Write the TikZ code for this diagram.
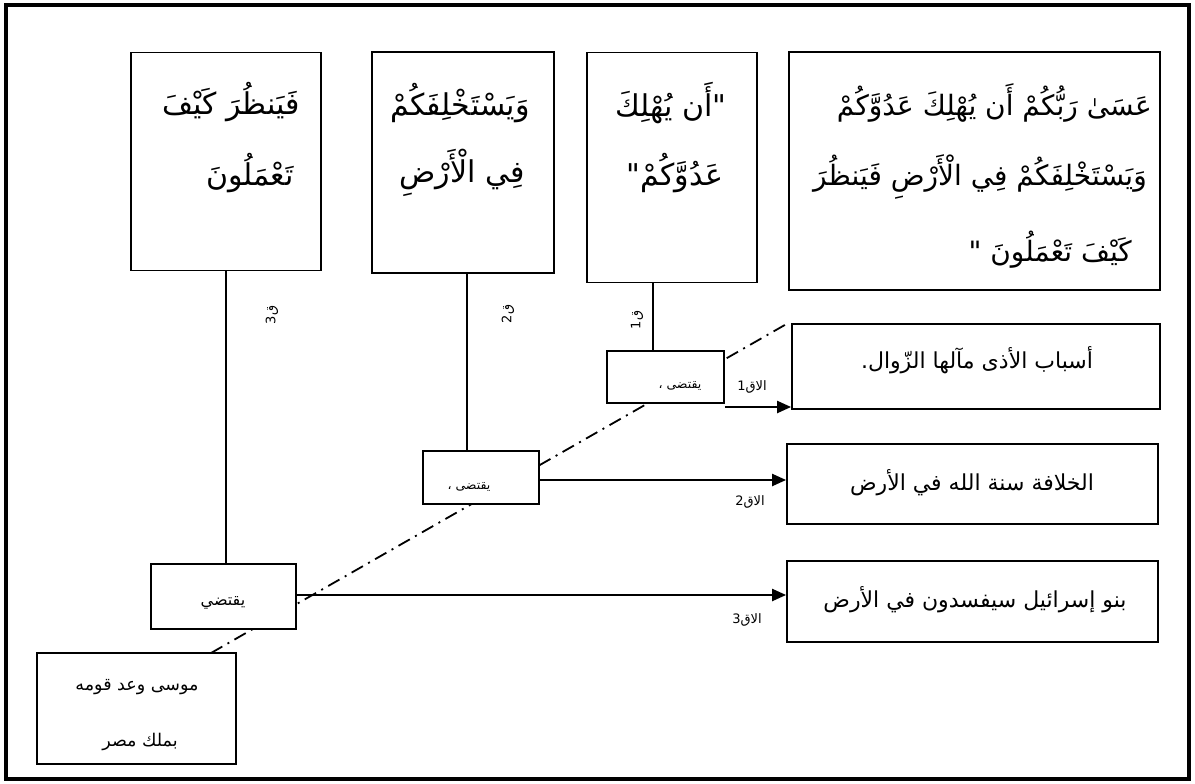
\documentclass[tikz,border=0pt]{standalone}
\usepackage{fontspec}
\TeXXeTstate=1
\newfontfamily\arabicfont[Script=Arabic]{DejaVu Sans}
\usetikzlibrary{arrows.meta}
\newcommand{\AR}[1]{{\arabicfont\beginR #1\endR}}
\begin{document}
\begin{tikzpicture}[x=1pt,y=-1pt,
  frame/.style={draw, line width=3.5pt},
  bigbox/.style={draw, line width=1.8pt, fill=white, inner sep=0pt},
  smallbox/.style={draw, line width=1.6pt, fill=white, inner sep=0pt},
  conn/.style={line width=1.6pt},
  arr/.style={line width=2.2pt, -{Triangle[length=14pt,width=12pt]}},
  dashdot/.style={line width=1.8pt, dash pattern=on 13pt off 6pt on 2pt off 6pt},
  quranA/.style={font=\arabicfont\fontsize{28}{32}\selectfont, inner sep=0pt},
  quran/.style={font=\arabicfont\fontsize{30}{34}\selectfont, inner sep=0pt},
  plain/.style={font=\arabicfont\fontsize{22}{26}\selectfont, inner sep=0pt},
  mtext/.style={font=\arabicfont\fontsize{17.5}{21}\selectfont, inner sep=0pt},
  stext/.style={font=\arabicfont\fontsize{12.5}{15}\selectfont, inner sep=0pt},
  stextb/.style={font=\arabicfont\fontsize{16}{19}\selectfont, inner sep=0pt},
  lab/.style={font=\arabicfont\fontsize{13}{15}\selectfont, inner sep=0pt},
]
\useasboundingbox (0,0) rectangle (1195,784);
\node[frame, minimum width=1183pt, minimum height=774pt, inner sep=0pt] (frm) at (597.5,392) {};

% dash-dot line (behind boxes)
\coordinate (dS) at (211,653);
\coordinate (dE) at (790,322);
\draw[dashdot] (dS) -- (dE);

% top boxes
\node[bigbox, minimum width=371pt, minimum height=238pt] (A) at (974.5,171) {};
\node[bigbox, minimum width=170pt, minimum height=230pt] (B) at (672,167.5) {};
\node[bigbox, minimum width=182pt, minimum height=221pt] (C) at (463,162.5) {};
\node[bigbox, minimum width=190pt, minimum height=218pt] (D) at (226,161.5) {};

\node[quranA, anchor=east] (A1) at (1152,103) {\AR{عَسَىٰ رَبُّكُمْ أَن يُهْلِكَ عَدُوَّكُمْ}};
\node[quranA, anchor=east] (A2) at (1147,177) {\AR{وَيَسْتَخْلِفَكُمْ فِي الْأَرْضِ فَيَنظُرَ}};
\node[quranA, anchor=east] (A3) at (1132,250) {\AR{كَيْفَ تَعْمَلُونَ  "}};

\node[quran] (B1) at (671,103) {\AR{"أَن يُهْلِكَ}};
\node[quran] (B2) at (675,173) {\AR{عَدُوَّكُمْ"}};

\node[quran] (C1) at (460,103) {\AR{وَيَسْتَخْلِفَكُمْ}};
\node[quran] (C2) at (462,173) {\AR{فِي الْأَرْضِ}};

\node[quran] (D1) at (231,102) {\AR{فَيَنظُرَ كَيْفَ}};
\node[quran] (D2) at (250,173) {\AR{تَعْمَلُونَ}};

% small boxes
\node[smallbox, minimum width=117pt, minimum height=52pt] (s1) at (665.5,377) {};
\node[smallbox, minimum width=116pt, minimum height=53pt] (s2) at (481,477.5) {};
\node[smallbox, minimum width=145pt, minimum height=65pt] (s3) at (223.5,596.5) {};
\node[stext] (t1) at (680,386) {\AR{يقتضى ،}};
\node[stext] (t2) at (469,487) {\AR{يقتضى ،}};
\node[stextb] (t3) at (223,603) {\AR{يقتضي}};

% right boxes
\node[bigbox, minimum width=368pt, minimum height=85pt] (E) at (976,366.5) {};
\node[bigbox, minimum width=371pt, minimum height=80pt] (F) at (972.5,484) {};
\node[bigbox, minimum width=371pt, minimum height=81pt] (G) at (972.5,601.5) {};
\node[plain] (E1) at (977,360) {\AR{أسباب الأذى مآلها الزّوال.}};
\node[plain] (F1) at (972,483) {\AR{الخلافة سنة الله في الأرض}};
\node[plain] (G1) at (975,600) {\AR{بنو إسرائيل سيفسدون في الأرض}};

% bottom-left box
\node[bigbox, minimum width=199pt, minimum height=111pt] (H) at (136.5,708.5) {};
\node[mtext] (H1) at (137,687) {\AR{موسى وعد قومه}};
\node[mtext] (H2) at (140,742) {\AR{بملك مصر}};

% vertical connectors
\coordinate (x1) at (653,0);
\coordinate (x2) at (467,0);
\coordinate (x3) at (226,0);
\draw[conn] (B.south -| x1) -- (s1.north -| x1);
\draw[conn] (C.south -| x2) -- (s2.north -| x2);
\draw[conn] (D.south -| x3) -- (s3.north -| x3);

% rotated labels
\node[lab, rotate=90] (q1) at (637,320) {\AR{ق1}};
\node[lab, rotate=90] (q2) at (508,314) {\AR{ق2}};
\node[lab, rotate=90] (q3) at (272,315) {\AR{ق3}};

% arrows
\coordinate (y1) at (0,407);
\coordinate (y2) at (0,480);
\coordinate (y3) at (0,595);
\draw[arr] (s1.east |- y1) -- (E.west |- y1);
\draw[arr] (s2.east |- y2) -- (F.west |- y2);
\draw[arr] (s3.east |- y3) -- (G.west |- y3);
\node[lab] (a1) at (752,387) {\AR{الاق1}};
\node[lab] (a2) at (750,502) {\AR{الاق2}};
\node[lab] (a3) at (747,620) {\AR{الاق3}};
\end{tikzpicture}
\end{document}
